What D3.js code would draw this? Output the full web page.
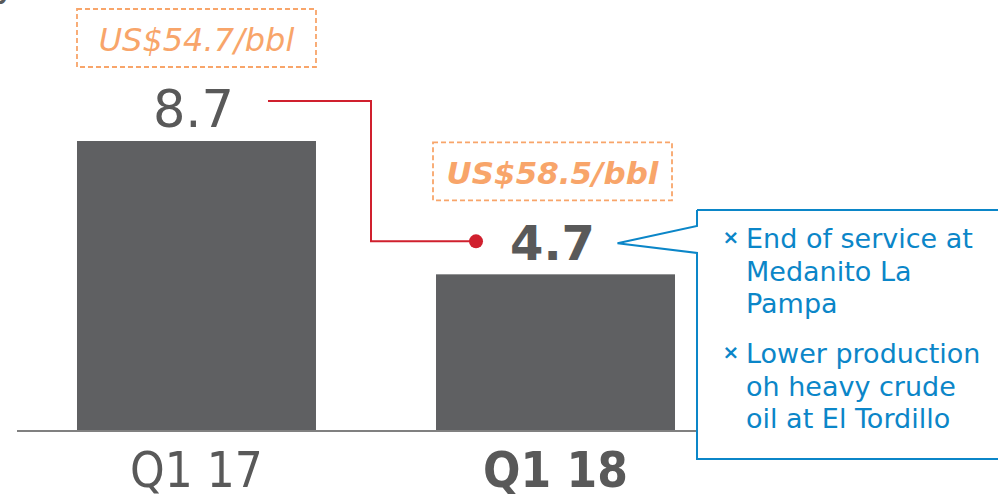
<!DOCTYPE html>
<html>
<head>
<meta charset="utf-8">
<script src="https://cdn.jsdelivr.net/npm/d3@7"></script>
<style>
  body { margin: 0; background: #fff; }
  svg { display: block; }
</style>
</head>
<body>
<script>
// data
var categories = ["Q1 17", "Q1 18"];
var values = [8.7, 4.7];
var prices = ["US$54.7/bbl", "US$58.5/bbl"];
var notes = [
  ["End of service at", "Medanito La", "Pampa"],
  ["Lower production", "oh heavy crude", "oil at El Tordillo"]
];

var width = 998, height = 499;
var grey = "#5f6062", textGrey = "#595959", orange = "#f8a56a", red = "#d0202e", blue = "#0b86c8";

var svg = d3.select("body").append("svg")
    .attr("width", width)
    .attr("height", height);

// scales
var x = d3.scaleBand()
    .domain(categories)
    .range([17, 735])
    .paddingInner(0.3343)
    .paddingOuter(0.1671);

var y = d3.scaleLinear()
    .domain([0, 9])
    .range([431, 131]);

// cut-off title descender
svg.append("text")
    .attr("x", -6).attr("y", -5)
    .style("font-family", "DejaVu Sans").style("font-size", "40px")
    .style("fill", textGrey)
    .text("y");

// bars
svg.selectAll(".bar")
    .data(values)
  .enter().append("rect")
    .attr("class", "bar")
    .attr("x", (d, i) => x(categories[i]))
    .attr("y", d => y(d))
    .attr("width", x.bandwidth())
    .attr("height", d => y(0) - y(d))
    .style("fill", grey);

// baseline
svg.append("line")
    .attr("x1", 17).attr("x2", 697)
    .attr("y1", y(0)).attr("y2", y(0))
    .style("stroke", "#808080").style("stroke-width", 2);

// category labels
svg.selectAll(".cat")
    .data(categories)
  .enter().append("text")
    .attr("class", "cat")
    .attr("x", d => x(d) + x.bandwidth() / 2)
    .attr("y", 487)
    .attr("text-anchor", "middle")
    .style("font-family", "DejaVu Sans Condensed")
    .style("font-size", "49px")
    .style("font-weight", (d, i) => i === 1 ? "bold" : "normal")
    .style("fill", textGrey)
    .text(d => d);

// value labels
svg.selectAll(".val")
    .data(values)
  .enter().append("text")
    .attr("class", "val")
    .attr("x", (d, i) => x(categories[i]) + x.bandwidth() / 2 - 3)
    .attr("y", d => y(d) - 14)
    .attr("text-anchor", "middle")
    .style("font-family", "DejaVu Sans")
    .style("font-size", (d, i) => i === 1 ? "48px" : "51px")
    .style("font-weight", (d, i) => i === 1 ? "bold" : "normal")
    .style("fill", textGrey)
    .text(d => d.toFixed(1));

// price boxes
var pb = svg.selectAll(".price")
    .data(prices)
  .enter().append("g")
    .attr("class", "price");

pb.append("rect")
    .attr("x", (d, i) => x(categories[i]) - (i === 1 ? 3 : 0))
    .attr("y", (d, i) => y(values[i]) - 132)
    .attr("width", x.bandwidth())
    .attr("height", 58)
    .style("fill", "none")
    .style("stroke", orange)
    .style("stroke-width", 1.8)
    .style("stroke-dasharray", "5,3");

pb.append("text")
    .attr("x", (d, i) => x(categories[i]) + x.bandwidth() / 2 - (i === 1 ? 3 : 0))
    .attr("y", (d, i) => y(values[i]) - 90)
    .attr("text-anchor", "middle")
    .style("font-family", "DejaVu Sans")
    .style("font-size", (d, i) => i === 1 ? "31px" : "32px")
    .style("font-style", "italic")
    .style("font-weight", (d, i) => i === 1 ? "bold" : "normal")
    .style("fill", orange)
    .text(d => d);

// red connector
var x0 = x(categories[0]) + x.bandwidth() - 48,
    x1 = x(categories[1]) + 40,
    xm = (x(categories[0]) + x.bandwidth() + x(categories[1])) / 2 - 5,
    y0 = y(values[0]) - 40,
    y1 = y(values[1]) - 33;

svg.append("path")
    .attr("d", d3.line()([[x0, y0], [xm, y0], [xm, y1], [x1, y1]]))
    .style("fill", "none")
    .style("stroke", red)
    .style("stroke-width", 2);

svg.append("circle")
    .attr("cx", x1).attr("cy", y1).attr("r", 7)
    .style("fill", red);

// blue callout
var boxX = x(categories[1]) + x.bandwidth() + 22,
    tipX = x(categories[1]) + x.bandwidth() / 2 + 62,
    tipY = y(values[1]) - 31,
    boxTop = 210, boxBottom = 459, boxRight = 1010;

svg.append("path")
    .attr("d", d3.line()([
      [boxX, boxTop], [boxRight, boxTop], [boxRight, boxBottom], [boxX, boxBottom],
      [boxX, 253], [tipX, tipY], [boxX, 226], [boxX, boxTop]
    ]))
    .style("fill", "#fff")
    .style("stroke", blue)
    .style("stroke-width", 2);

var lineH = 32.5;
var note = svg.selectAll(".note")
    .data(notes)
  .enter().append("g")
    .attr("class", "note")
    .attr("transform", (d, i) => "translate(0," + (248 + i * 115) + ")");

note.append("text")
    .attr("x", 731).attr("y", -4)
    .attr("text-anchor", "middle")
    .style("font-family", "DejaVu Sans")
    .style("font-size", "20px")
    .style("font-weight", "bold")
    .style("fill", blue)
    .text("\u00d7");

note.selectAll("text.line")
    .data(d => d)
  .enter().append("text")
    .attr("class", "line")
    .attr("x", 746)
    .attr("y", (d, i) => i * lineH)
    .style("font-family", "DejaVu Sans")
    .style("font-size", "27px")
    .style("fill", blue)
    .text(d => d);
</script>
</body>
</html>
